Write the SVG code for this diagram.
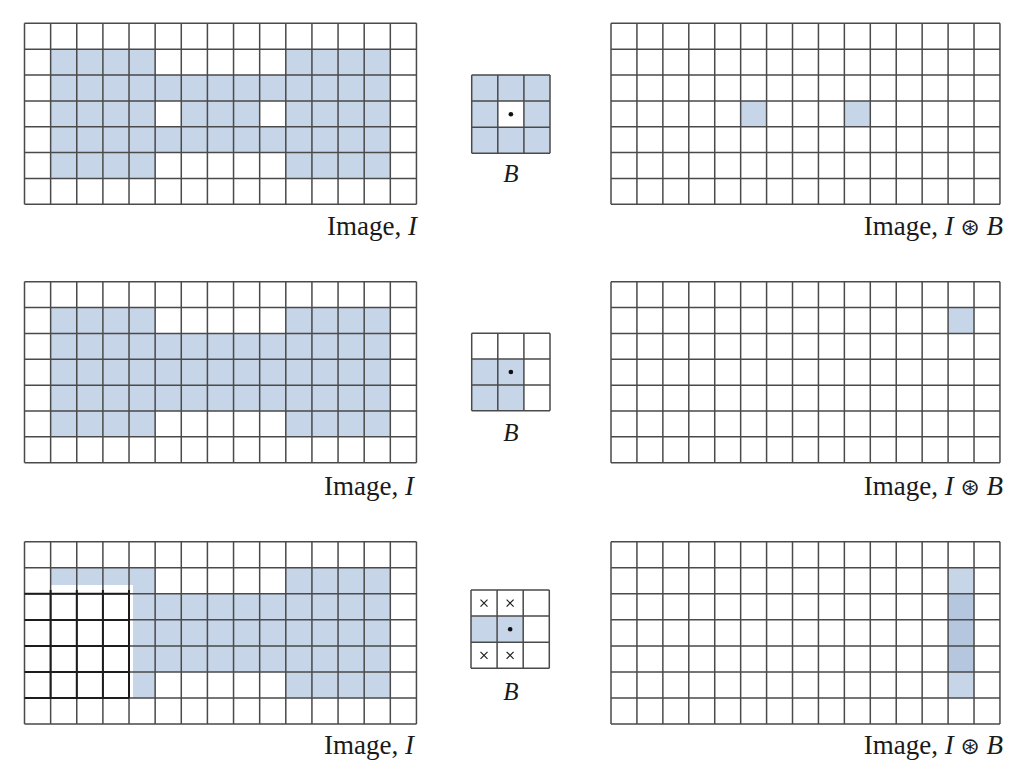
<svg xmlns="http://www.w3.org/2000/svg" width="1020" height="782" viewBox="0 0 1020 782">
<style>
.bg{fill:#ffffff}
.sh{fill:#c7d5e8}
.sh2{fill:#b5c7de}
.wh{fill:#ffffff}
.gl{fill:none;stroke:#4a4a4a;stroke-width:1.5}
.dk{fill:none;stroke:#1c1c1c;stroke-width:2}
.xm{fill:none;stroke:#222;stroke-width:1.2}
.lbl{font-family:'Liberation Serif','Times New Roman',serif;font-size:27px;fill:#1a1a1a}
.it{font-style:italic}
.sym{font-family:'DejaVu Sans','Noto Sans',sans-serif;font-size:23px}
.bl{font-family:'Liberation Serif','Times New Roman',serif;font-size:25px;font-style:italic;fill:#1a1a1a}
</style>
<rect class="bg" x="0" y="0" width="1020" height="782"/>

<!-- Row 1 -->
<g id="imageTop">
<rect class="sh" x="50.6" y="49.2" width="104.6" height="129.3"/>
<rect class="sh" x="285.8" y="49.2" width="104.5" height="129.3"/>
<rect class="sh" x="155.2" y="75" width="130.6" height="77.6"/>
<rect class="wh" x="155.2" y="100.9" width="26.1" height="25.8"/>
<rect class="wh" x="259.7" y="100.9" width="26.1" height="25.8"/>
<path class="gl" d="M24.5,23.3h392m-392,25.86h392m-392,25.86h392m-392,25.86h392m-392,25.86h392m-392,25.86h392m-392,25.86h392m-392,25.86h392M24.5,23.3v181m26.13,-181v181m26.13,-181v181m26.13,-181v181m26.13,-181v181m26.13,-181v181m26.13,-181v181m26.13,-181v181m26.13,-181v181m26.13,-181v181m26.13,-181v181m26.13,-181v181m26.13,-181v181m26.13,-181v181m26.13,-181v181m26.13,-181v181"/>
<text class="lbl" x="417" y="235" text-anchor="end">Image, <tspan class="it">I</tspan></text>
</g>

<g id="seTop">
<rect class="sh" x="471.7" y="75" width="78.3" height="78.3"/>
<rect class="wh" x="497.8" y="101.1" width="26.1" height="26.1"/>
<path class="gl" d="M471.7,75h78.3m-78.3,26.1h78.3m-78.3,26.1h78.3m-78.3,26.1h78.3M471.7,75v78.3m26.1,-78.3v78.3m26.1,-78.3v78.3m26.1,-78.3v78.3"/>
<circle cx="510.9" cy="114.2" r="2.3" fill="#111"/>
<text class="bl" x="511" y="182" text-anchor="middle">B</text>
</g>

<g id="resultTop">
<rect class="sh" x="740.7" y="100.9" width="25.9" height="25.8"/>
<rect class="sh" x="844.4" y="100.9" width="25.9" height="25.8"/>
<path class="gl" d="M611,23.3h389m-389,25.86h389m-389,25.86h389m-389,25.86h389m-389,25.86h389m-389,25.86h389m-389,25.86h389m-389,25.86h389M611,23.3v181m25.93,-181v181m25.93,-181v181m25.93,-181v181m25.93,-181v181m25.93,-181v181m25.93,-181v181m25.93,-181v181m25.93,-181v181m25.93,-181v181m25.93,-181v181m25.93,-181v181m25.93,-181v181m25.93,-181v181m25.93,-181v181m25.93,-181v181"/>
<text class="lbl" x="1003" y="235" text-anchor="end">Image, <tspan class="it">I</tspan> <tspan class="sym">⊛</tspan> <tspan class="it">B</tspan></text>
</g>

<!-- Row 2 -->
<g id="imageMid">
<rect class="sh" x="50.6" y="307.6" width="104.6" height="129.3"/>
<rect class="sh" x="285.8" y="307.6" width="104.5" height="129.3"/>
<rect class="sh" x="155.2" y="333.4" width="130.6" height="77.6"/>
<path class="gl" d="M24.5,281.7h392m-392,25.86h392m-392,25.86h392m-392,25.86h392m-392,25.86h392m-392,25.86h392m-392,25.86h392m-392,25.86h392M24.5,281.7v181m26.13,-181v181m26.13,-181v181m26.13,-181v181m26.13,-181v181m26.13,-181v181m26.13,-181v181m26.13,-181v181m26.13,-181v181m26.13,-181v181m26.13,-181v181m26.13,-181v181m26.13,-181v181m26.13,-181v181m26.13,-181v181m26.13,-181v181"/>
<text class="lbl" x="414" y="495" text-anchor="end">Image, <tspan class="it">I</tspan></text>
</g>

<g id="seMid">
<rect class="sh" x="471.7" y="359.1" width="52.2" height="51.6"/>
<path class="gl" d="M471.7,333.3h78.3m-78.3,25.8h78.3m-78.3,25.8h78.3m-78.3,25.8h78.3M471.7,333.3v77.4m26.1,-77.4v77.4m26.1,-77.4v77.4m26.1,-77.4v77.4"/>
<circle cx="510.9" cy="372" r="2.3" fill="#111"/>
<text class="bl" x="511" y="441" text-anchor="middle">B</text>
</g>

<g id="resultMid">
<rect class="sh" x="948.1" y="307.6" width="25.9" height="25.8"/>
<path class="gl" d="M611,281.7h389m-389,25.86h389m-389,25.86h389m-389,25.86h389m-389,25.86h389m-389,25.86h389m-389,25.86h389m-389,25.86h389M611,281.7v181m25.93,-181v181m25.93,-181v181m25.93,-181v181m25.93,-181v181m25.93,-181v181m25.93,-181v181m25.93,-181v181m25.93,-181v181m25.93,-181v181m25.93,-181v181m25.93,-181v181m25.93,-181v181m25.93,-181v181m25.93,-181v181m25.93,-181v181"/>
<text class="lbl" x="1003" y="495" text-anchor="end">Image, <tspan class="it">I</tspan> <tspan class="sym">⊛</tspan> <tspan class="it">B</tspan></text>
</g>

<!-- Row 3 -->
<g id="imageBot">
<rect class="sh" x="50.6" y="567.8" width="104.6" height="130.2"/>
<rect class="sh" x="285.8" y="567.8" width="104.5" height="130.2"/>
<rect class="sh" x="155.2" y="593.8" width="130.6" height="78.2"/>
<rect class="wh" x="24.5" y="585" width="108.5" height="113"/>
<path class="gl" d="M24.5,541.7h392m-392,26.05h392m-392,26.05h392m-392,26.05h392m-392,26.05h392m-392,26.05h392m-392,26.05h392m-392,26.05h392M24.5,541.7v182.4m26.13,-182.4v182.4m26.13,-182.4v182.4m26.13,-182.4v182.4m26.13,-182.4v182.4m26.13,-182.4v182.4m26.13,-182.4v182.4m26.13,-182.4v182.4m26.13,-182.4v182.4m26.13,-182.4v182.4m26.13,-182.4v182.4m26.13,-182.4v182.4m26.13,-182.4v182.4m26.13,-182.4v182.4m26.13,-182.4v182.4m26.13,-182.4v182.4"/>
<path class="dk" d="M24.5,593.8H129M24.5,619.9H129M24.5,645.9H129M24.5,672H129M24.5,698H129M50.6,590V698M76.8,590V698M102.9,590V698M129,590V698"/>
<text class="lbl" x="414" y="754" text-anchor="end">Image, <tspan class="it">I</tspan></text>
</g>

<g id="seBot">
<rect class="sh" x="471" y="616.1" width="52.2" height="26.1"/>
<path class="gl" d="M471,590h78.3m-78.3,26.1h78.3m-78.3,26.1h78.3m-78.3,26.1h78.3M471,590v78.3m26.1,-78.3v78.3m26.1,-78.3v78.3m26.1,-78.3v78.3"/>
<path class="xm" d="M480.5,599.6l7,7m0,-7l-7,7M506.6,599.6l7,7m0,-7l-7,7M480.5,651.8l7,7m0,-7l-7,7M506.6,651.8l7,7m0,-7l-7,7"/>
<circle cx="510.2" cy="629.2" r="2.3" fill="#111"/>
<text class="bl" x="511" y="700" text-anchor="middle">B</text>
</g>

<g id="resultBot">
<rect class="sh" x="948.1" y="567.8" width="25.9" height="26"/>
<rect class="sh2" x="948.1" y="593.8" width="25.9" height="78.2"/>
<rect class="sh" x="948.1" y="672" width="25.9" height="26"/>
<path class="gl" d="M611,541.7h389m-389,26.05h389m-389,26.05h389m-389,26.05h389m-389,26.05h389m-389,26.05h389m-389,26.05h389m-389,26.05h389M611,541.7v182.4m25.93,-182.4v182.4m25.93,-182.4v182.4m25.93,-182.4v182.4m25.93,-182.4v182.4m25.93,-182.4v182.4m25.93,-182.4v182.4m25.93,-182.4v182.4m25.93,-182.4v182.4m25.93,-182.4v182.4m25.93,-182.4v182.4m25.93,-182.4v182.4m25.93,-182.4v182.4m25.93,-182.4v182.4m25.93,-182.4v182.4m25.93,-182.4v182.4"/>
<text class="lbl" x="1003" y="754" text-anchor="end">Image, <tspan class="it">I</tspan> <tspan class="sym">⊛</tspan> <tspan class="it">B</tspan></text>
</g>

<g id="connectors"/>
</svg>
